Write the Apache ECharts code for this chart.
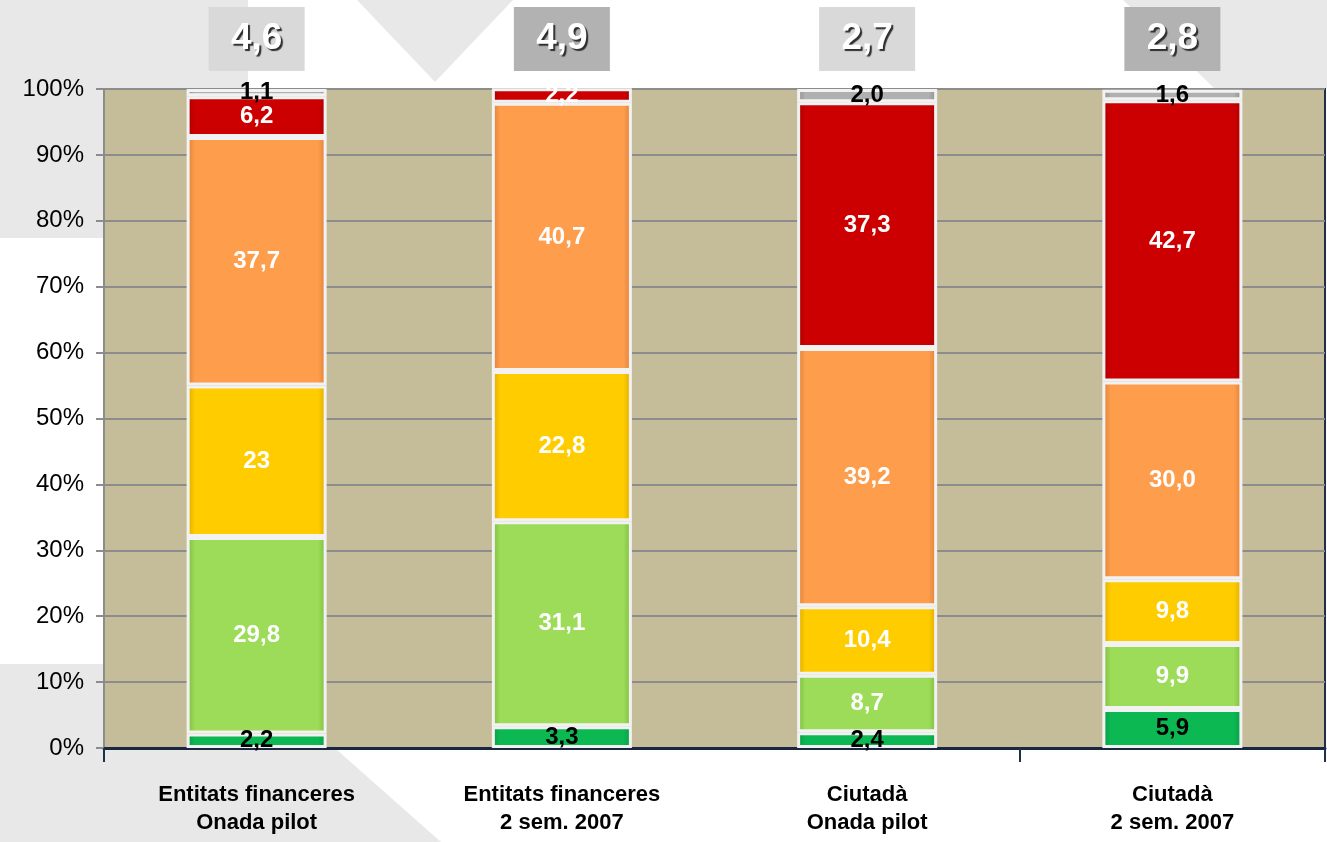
<!DOCTYPE html>
<html>
<head>
<meta charset="utf-8">
<title>Distribució per categoria</title>
<script src="https://cdn.jsdelivr.net/npm/echarts@6/dist/echarts.min.js"></script>
<style>
  html, body { margin: 0; padding: 0; background: #fff; }
  #chart { width: 1327px; height: 842px; }
</style>
</head>
<body>
<div id="chart"></div>
<script>
  // categories (x axis) and the score shown in the grey box above each bar
  var categories = ['Entitats financeres\nOnada pilot', 'Entitats financeres\n2 sem. 2007', 'Ciutadà\nOnada pilot', 'Ciutadà\n2 sem. 2007'];
  var scores = ['4.6', '4.9', '2.7', '2.8'];

  // stacked percentages, bottom to top (kept as text so "23" / "30.0" print as in the source)
  var darkGreen  = ['2.2', '3.3', '2.4', '5.9'];
  var lightGreen = ['29.8', '31.1', '8.7', '9.9'];
  var yellow     = ['23', '22.8', '10.4', '9.8'];
  var orange     = ['37.7', '40.7', '39.2', '30.0'];
  var red        = ['6.2', '2.2', '37.3', '42.7'];
  var grey       = ['1.1', null, '2.0', '1.6'];

  var yTicks = [0, 10, 20, 30, 40, 50, 60, 70, 80, 90, 100];

  var FONT = "'Liberation Sans', Arial, sans-serif";

  function comma(v) {
    return v == null ? '' : String(v).replace('.', ',');
  }

  function shade(base, edge) {
    return {
      type: 'linear', x: 0, y: 0, x2: 1, y2: 0,
      colorStops: [
        { offset: 0, color: edge },
        { offset: 0.06, color: base },
        { offset: 0.94, color: base },
        { offset: 1, color: edge }
      ]
    };
  }

  function makeSeries(name, data, base, edge, labelColor) {
    return {
      name: name,
      type: 'bar',
      stack: 'total',
      barWidth: 140,
      data: data,
      itemStyle: {
        color: shade(base, edge),
        borderColor: '#F2F2F2',
        borderWidth: 3
      },
      label: {
        show: true,
        position: 'inside',
        color: labelColor,
        fontFamily: FONT,
        fontWeight: 'bold',
        fontSize: 24,
        formatter: function (p) { return comma(p.data); }
      }
    };
  }

  var boxText = {
    width: 96, height: 64, lineHeight: 64, align: 'center',
    color: '#fff',
    fontFamily: FONT, fontWeight: 'bold', fontSize: 37,
    textShadowColor: '#2E2E2E', textShadowOffsetX: 2, textShadowOffsetY: 2, textShadowBlur: 1
  };

  var chart = echarts.init(document.getElementById('chart'));
  chart.setOption({
    animation: false,
    textStyle: { fontFamily: FONT },
    graphic: {
      elements: [
        { type: 'polygon', z: -1, shape: { points: [[0, 0], [248, 0], [248, 88], [103, 88], [103, 238], [0, 238]] }, style: { fill: '#E8E8E8' } },
        { type: 'polygon', z: -1, shape: { points: [[357, 0], [513, 0], [435, 82]] }, style: { fill: '#E8E8E8' } },
        { type: 'polygon', z: -1, shape: { points: [[1123, 0], [1327, 0], [1327, 88], [1214, 88]] }, style: { fill: '#E8E8E8' } },
        { type: 'polygon', z: -1, shape: { points: [[0, 664], [103, 664], [103, 750], [337, 750], [441, 842], [0, 842]] }, style: { fill: '#E8E8E8' } }
      ]
    },
    grid: {
      left: 104,
      right: 2,
      top: 89,
      bottom: 94,
      show: true,
      backgroundColor: '#C5BD99',
      borderColor: '#1F2F4A',
      borderWidth: 2
    },
    xAxis: [
      {
        type: 'category',
        data: categories,
        axisLine: { lineStyle: { color: '#1A2740', width: 3 } },
        axisTick: {
          show: true,
          length: 14,
          interval: function (i) { return i === 0 || i === 3; },
          lineStyle: { color: '#1F2F4A', width: 2 }
        },
        axisLabel: {
          margin: 33,
          color: '#000',
          fontFamily: FONT,
          fontWeight: 'bold',
          fontSize: 22,
          lineHeight: 28
        }
      },
      {
        type: 'category',
        position: 'top',
        data: scores,
        axisLine: { show: false },
        axisTick: { show: false },
        axisLabel: {
          margin: 18,
          textShadowColor: '#2E2E2E',
          textShadowOffsetX: 2,
          textShadowOffsetY: 2,
          textShadowBlur: 1,
          formatter: function (v, i) {
            return (i % 2 === 0 ? '{light|' : '{dark|') + comma(v) + '}';
          },
          rich: {
            light: Object.assign({ backgroundColor: '#D9D9D9' }, boxText),
            dark: Object.assign({ backgroundColor: '#B2B2B2' }, boxText)
          }
        }
      }
    ],
    yAxis: {
      type: 'value',
      min: yTicks[0],
      max: yTicks[yTicks.length - 1],
      interval: 10,
      axisLine: { show: true, lineStyle: { color: '#8C8C8C', width: 2 } },
      axisTick: { show: true, length: 8, lineStyle: { color: '#8C8C8C', width: 2 } },
      axisLabel: {
        margin: 20,
        color: '#000',
        fontFamily: FONT,
        fontSize: 24,
        formatter: '{value}%'
      },
      splitLine: { lineStyle: { color: '#8C8C8C', width: 2 } }
    },
    series: [
      makeSeries('Verd fosc', darkGreen, '#0CB852', '#089A43', '#000'),
      makeSeries('Verd clar', lightGreen, '#9CDC58', '#7DB840', '#fff'),
      makeSeries('Groc', yellow, '#FFCC00', '#D9A800', '#fff'),
      makeSeries('Taronja', orange, '#FE9D4C', '#D97F38', '#fff'),
      makeSeries('Vermell', red, '#CC0000', '#A80000', '#fff'),
      makeSeries('Gris', grey, '#B0B0B0', '#8C8C8C', '#000')
    ]
  });
</script>
</body>
</html>
